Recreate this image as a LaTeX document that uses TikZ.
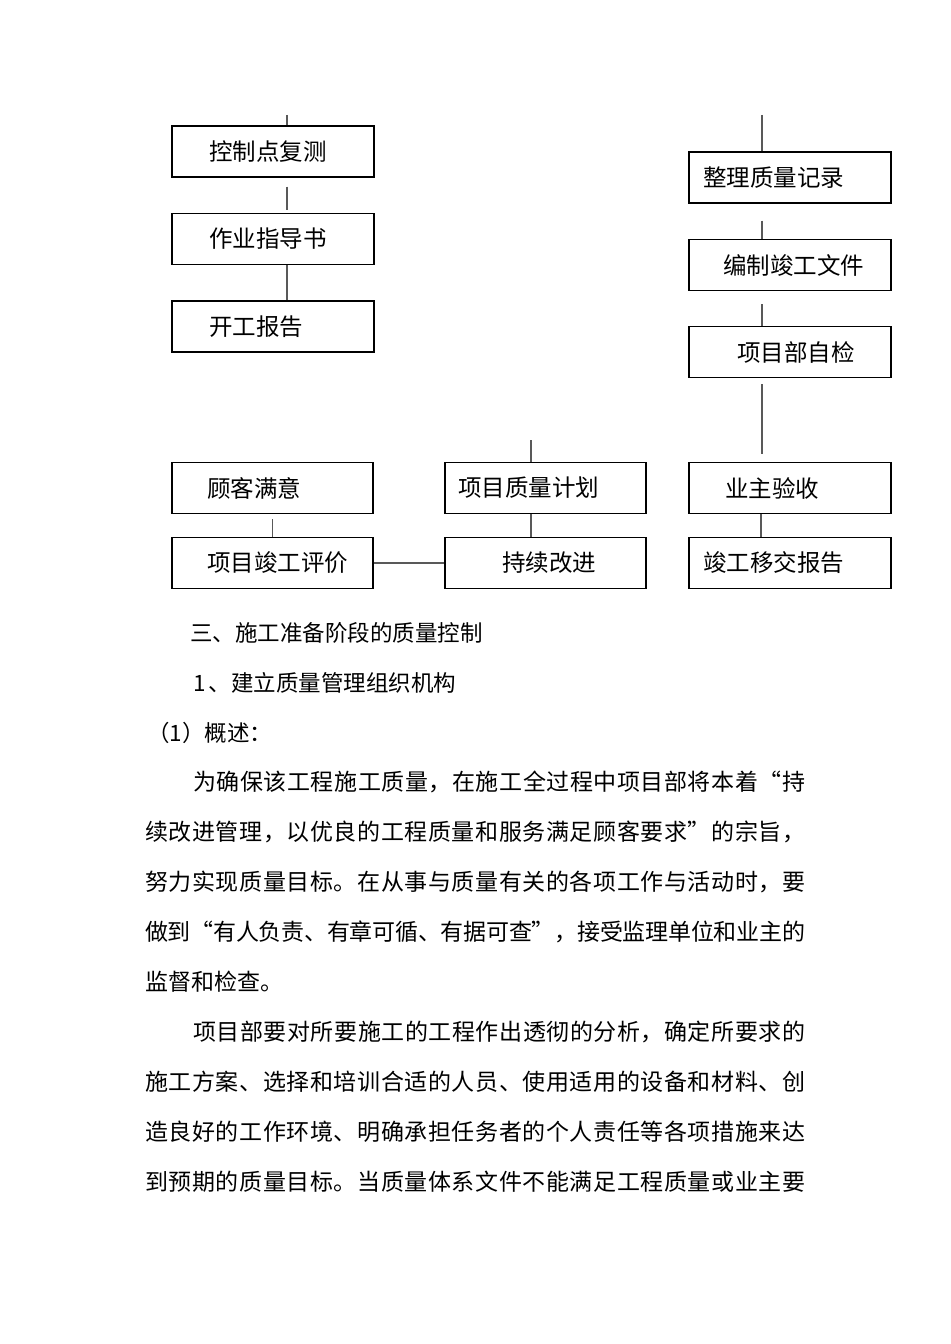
\documentclass[tikz,border=0pt]{standalone}
\usepackage{fontspec}
\setmainfont{Noto Sans CJK SC}
\ExplSyntaxOn
\NewDocumentCommand\jline{m}{\tl_map_inline:nn {#1}{##1\hskip 0pt plus 1fil minus 1pt}\unskip}
\ExplSyntaxOff
\begin{document}
\begin{tikzpicture}[x=1bp,y=-1bp,
  box/.style={draw=black, line width=1.4bp, minimum width=202bp, minimum height=51bp, inner xsep=0pt, inner ysep=0pt, anchor=center, font=\fontsize{23.5bp}{24bp}\selectfont},
  conn/.style={draw=black!65, line width=1.3bp},
  para/.style={anchor=west, inner sep=0pt, font=\fontsize{23bp}{25bp}\selectfont},
  head/.style={anchor=west, inner sep=0pt, font=\fontsize{22.5bp}{25bp}\selectfont}]
\useasboundingbox (0,0) rectangle (950,1344);
\fill[white] (0,0) rectangle (950,1344);
% left column
\node[box] (L1) at (273,151.5) {\makebox[202bp][l]{\hspace{37bp}控制点复测}};
\node[box] (L2) at (273,239) {\makebox[202bp][l]{\hspace{37bp}作业指导书}};
\node[box] (L3) at (273,326.5) {\makebox[202bp][l]{\hspace{37bp}开工报告}};
% right column
\node[box] (R1) at (790,177.5) {\makebox[202bp][l]{\hspace{14bp}整理质量记录}};
\node[box] (R2) at (790,265) {\makebox[202bp][l]{\hspace{34bp}编制竣工文件}};
\node[box] (R3) at (790,352) {\makebox[202bp][l]{\hspace{48bp}项目部自检}};
\node[box] (R4) at (790,488) {\makebox[202bp][l]{\hspace{36bp}业主验收}};
\node[box] (R5) at (790,563) {\makebox[202bp][l]{\hspace{14bp}竣工移交报告}};
% middle
\node[box, minimum width=201bp] (M1) at (545.5,488) {\makebox[201bp][l]{\hspace{13bp}项目质量计划}};
\node[box, minimum width=201bp] (M2) at (545.5,563) {\makebox[201bp][l]{\hspace{57bp}持续改进}};
% bottom left
\node[box, minimum width=201bp] (B1) at (272.5,488) {\makebox[201bp][l]{\hspace{35bp}顾客满意}};
\node[box, minimum width=201bp] (B2) at (272.5,563) {\makebox[201bp][l]{\hspace{35bp}项目竣工评价}};
% connectors
\coordinate (tL) at (287,115);
\coordinate (tR) at (762,115);
\coordinate (tM) at (531,440);
\draw[conn] (tL) -- (tL |- L1.north);
\draw[conn, shorten <=9bp, shorten >=3bp] ([xshift=14bp]L1.south) -- ([xshift=14bp]L2.north);
\draw[conn] ([xshift=14bp]L2.south) -- ([xshift=14bp]L3.north);
\draw[conn] (tR) -- (tR |- R1.north);
\draw[conn, shorten <=17bp] ([xshift=-28bp]R1.south) -- ([xshift=-28bp]R2.north);
\draw[conn, shorten <=13bp] ([xshift=-28bp]R2.south) -- ([xshift=-28bp]R3.north);
\draw[conn, shorten <=6bp, shorten >=8bp] ([xshift=-28bp]R3.south) -- ([xshift=-28bp]R4.north);
\draw[conn] ([xshift=-29bp]R4.south) -- ([xshift=-29bp]R5.north);
\draw[conn] (tM) -- (tM |- M1.north);
\draw[conn] ([xshift=-14.5bp]M1.south) -- ([xshift=-14.5bp]M2.north);
\draw[conn, shorten <=5bp] (B1.south) -- (B2.north);
\draw[conn] (B2.east) -- (M2.west);
% text
\node[head] (h1) at (190,633) {三、施工准备阶段的质量控制};
\node[head] (h2) at (193,683) {1\hspace{3bp}、建立质量管理组织机构};
\node[head] (h3) at (147,733) {（1）概述：};
\node[para] (p1) at (145,782) {\hbox to 660bp{\hspace*{48bp}\jline{为确保该工程施工质量，在施工全过程中项目部将本着“持}}};
\node[para] (p2) at (145,832) {\hbox to 660bp{\jline{续改进管理，以优良的工程质量和服务满足顾客要求”的宗旨，}}};
\node[para] (p3) at (145,882) {\hbox to 660bp{\jline{努力实现质量目标。在从事与质量有关的各项工作与活动时，要}}};
\node[para] (p4) at (145,932) {\hbox to 660bp{\jline{做到“有人负责、有章可循、有据可查”，接受监理单位和业主的}}};
\node[para] (p5) at (145,982) {监督和检查。};
\node[para] (p6) at (145,1032) {\hbox to 660bp{\hspace*{48bp}\jline{项目部要对所要施工的工程作出透彻的分析，确定所要求的}}};
\node[para] (p7) at (145,1082) {\hbox to 660bp{\jline{施工方案、选择和培训合适的人员、使用适用的设备和材料、创}}};
\node[para] (p8) at (145,1132) {\hbox to 660bp{\jline{造良好的工作环境、明确承担任务者的个人责任等各项措施来达}}};
\node[para] (p9) at (145,1182) {\hbox to 660bp{\jline{到预期的质量目标。当质量体系文件不能满足工程质量或业主要}}};
\end{tikzpicture}
\end{document}
